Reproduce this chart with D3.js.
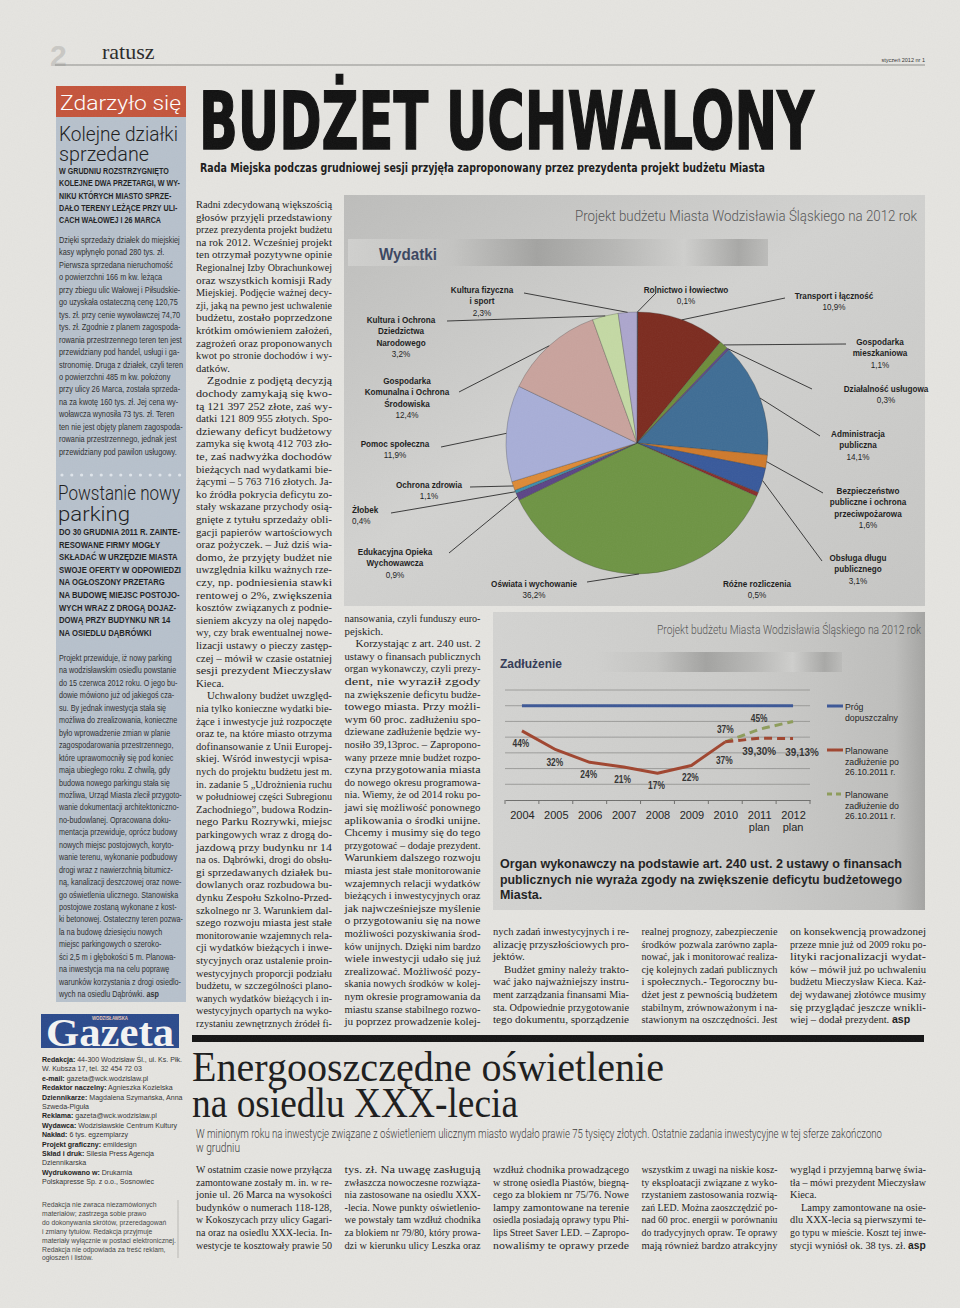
<!DOCTYPE html>
<meta charset="utf-8">
<style>
  body { margin: 0; background: #e5e4e0; }
  svg { display: block; }
</style>
<body></body>
<script src="https://cdn.jsdelivr.net/npm/d3@7/dist/d3.min.js"></script>
<script>
  const width = 960
  const height = 1308

  const serif = "'Liberation Serif', 'DejaVu Serif', serif"
  const arial = "'Liberation Sans', Arial, sans-serif"
  const light = "Roboto, 'Liberation Sans', sans-serif"
  const cond = "'DejaVu Sans Condensed', 'DejaVu Sans', sans-serif"

  // ---- Wydatki (pie) ----
  const expenseNames = ["Rolnictwo i łowiectwo", "Transport i łączność", "Gospodarka mieszkaniowa", "Działalność usługowa",
    "Administracja publiczna", "Bezpieczeństwo publiczne i ochrona przeciwpożarowa", "Obsługa długu publicznego",
    "Różne rozliczenia", "Oświata i wychowanie", "Edukacyjna Opieka Wychowawcza", "Żłobek", "Ochrona zdrowia",
    "Pomoc społeczna", "Gospodarka Komunalna i Ochrona Środowiska", "Kultura i Ochrona Dziedzictwa Narodowego",
    "Kultura fizyczna i sport"]
  const expenseShares = [0.1, 10.9, 1.1, 0.3, 14.1, 1.6, 3.1, 0.5, 36.2, 0.9, 0.4, 1.1, 11.9, 12.4, 3.2, 2.3]
  const expenseColors = ["#4f6b9a", "#7c2b1f", "#6e8c3b", "#5d4a87", "#3f6d95", "#cf7a2c", "#38599b", "#8a2e2a",
    "#6e9444", "#5b4586", "#3e8fae", "#dd8a36", "#a8aed7", "#c9a39d", "#c4d9a4", "#aca6cd"]
  const expenseLabelLines = [
    ["Rolnictwo i łowiectwo"], ["Transport i łączność"], ["Gospodarka", "mieszkaniowa"], ["Działalność usługowa"],
    ["Administracja", "publiczna"], ["Bezpieczeństwo", "publiczne i ochrona", "przeciwpożarowa"],
    ["Obsługa długu", "publicznego"], ["Różne rozliczenia"], ["Oświata i wychowanie"],
    ["Edukacyjna Opieka", "Wychowawcza"], ["Żłobek"], ["Ochrona zdrowia"], ["Pomoc społeczna"],
    ["Gospodarka", "Komunalna i Ochrona", "Środowiska"], ["Kultura i Ochrona", "Dziedzictwa", "Narodowego"],
    ["Kultura fizyczna", "i sport"]
  ]
  // where each label sits and where its leader line leaves it
  const pieLabelLayout = [
    { x: 686, y: 289, lx: 656, ly: 293 }, { x: 834, y: 295, lx: 785, ly: 298 },
    { x: 880, y: 341, lx: 846, ly: 344 }, { x: 886, y: 388, lx: 812, ly: 389 },
    { x: 858, y: 433, lx: 820, ly: 436 }, { x: 868, y: 490, lx: 823, ly: 493 },
    { x: 858, y: 557, lx: 822, ly: 561 }, { x: 757, y: 583 },
    { x: 534, y: 583, lx: 587, ly: 582 }, { x: 395, y: 551, lx: 449, ly: 553 },
    { x: 352, y: 509, lx: 391, ly: 513, anchor: "start" }, { x: 429, y: 484, lx: 470, ly: 487 },
    { x: 395, y: 443, lx: 441, ly: 447 }, { x: 407, y: 380, lx: 459, ly: 392 },
    { x: 401, y: 319, lx: 447, ly: 321 }, { x: 482, y: 289, lx: 524, ly: 293 }
  ]

  // ---- Zadłużenie (line) ----
  const years = ["2004", "2005", "2006", "2007", "2008", "2009", "2010", "2011", "2012"]
  const yearNotes = ["", "", "", "", "", "", "", "plan", "plan"]
  const actualYears = ["2004", "2005", "2006", "2007", "2008", "2009", "2010"]
  const debtActual = [44, 32, 24, 21, 17, 22, 37]
  const planYears = ["2010", "2011", "2012"]
  const debtPlanAfter = [37, 39.30, 39.13]
  const debtPlanBefore = [37, 45, 50]
  const debtLimit = 60
  const debtTicks = [0, 10, 20, 30, 40, 50, 60, 70]
  const legendLabels = [["Próg", "dopuszczalny"], ["Planowane", "zadłużenie po", "26.10.2011 r."], ["Planowane", "zadłużenie do", "26.10.2011 r."]]

  // ---- texts ----
  const kolejneLead = ["W GRUDNIU ROZSTRZYGNIĘTO", "KOLEJNE DWA PRZETARGI, W WY-", "NIKU KTÓRYCH MIASTO SPRZE-", "DAŁO TERENY LEŻĄCE PRZY ULI-", "CACH WAŁOWEJ I 26 MARCA"]
  const kolejneBody = ["Dzięki sprzedaży działek do miejskiej", "kasy wpłynęło ponad 280 tys. zł.", "Pierwsza sprzedana nieruchomość",
    "o powierzchni 166 m kw. leżąca", "przy zbiegu ulic Wałowej i Piłsudskie-", "go uzyskała ostateczną cenę 120,75",
    "tys. zł. przy cenie wywoławczej 74,70", "tys. zł. Zgodnie z planem zagospoda-", "rowania przestrzennego teren ten jest",
    "przewidziany pod handel, usługi i ga-", "stronomię. Druga z działek, czyli teren", "o powierzchni 485 m kw. położony",
    "przy ulicy 26 Marca, została sprzeda-", "na za kwotę 160 tys. zł. Jej cena wy-", "woławcza wynosiła 73 tys. zł. Teren",
    "ten nie jest objęty planem zagospoda-", "rowania przestrzennego, jednak jest", "przewidziany pod pawilon usługowy."]
  const parkingLead = ["DO 30 GRUDNIA 2011 R. ZAINTE-", "RESOWANE FIRMY MOGŁY", "SKŁADAĆ W URZĘDZIE MIASTA", "SWOJE OFERTY W ODPOWIEDZI",
    "NA OGŁOSZONY PRZETARG", "NA BUDOWĘ MIEJSC POSTOJO-", "WYCH WRAZ Z DROGĄ DOJAZ-", "DOWĄ PRZY BUDYNKU NR 14", "NA OSIEDLU DĄBRÓWKI"]
  const parkingBody = ["Projekt przewiduje, iż nowy parking", "na wodzisławskim osiedlu powstanie", "do 15 czerwca 2012 roku. O jego bu-",
    "dowie mówiono już od jakiegoś cza-", "su. By jednak inwestycja stała się", "możliwa do zrealizowania, konieczne",
    "było wprowadzenie zmian w planie", "zagospodarowania przestrzennego,", "które uprawomocniły się pod koniec",
    "maja ubiegłego roku. Z chwilą, gdy", "budowa nowego parkingu stała się", "możliwa, Urząd Miasta zlecił przygoto-",
    "wanie dokumentacji architektoniczno-", "no-budowlanej. Opracowana doku-", "mentacja przewiduje, oprócz budowy",
    "nowych miejsc postojowych, koryto-", "wanie terenu, wykonanie podbudowy", "drogi wraz z nawierzchnią bitumicz-",
    "ną, kanalizacji deszczowej oraz nowe-", "go oświetlenia ulicznego. Stanowiska", "postojowe zostaną wykonane z kost-",
    "ki betonowej. Ostateczny teren pozwa-", "la na budowę dziesięciu nowych", "miejsc parkingowych o szeroko-",
    "ści 2,5 m i głębokości 5 m. Planowa-", "na inwestycja ma na celu poprawę", "warunków korzystania z drogi osiedlo-",
    "wych na osiedlu Dąbrówki. asp"]
  const imprintLines = [["Redakcja:", " 44-300 Wodzisław Śl., ul. Ks. Płk."], ["", "W. Kubsza 17, tel. 32 454 72 03"],
    ["e-mail:", " gazeta@wck.wodzislaw.pl"], ["Redaktor naczelny:", " Agnieszka Kozielska"],
    ["Dziennikarze:", " Magdalena Szymańska, Anna"], ["", "Szweda-Piguła"], ["Reklama:", " gazeta@wck.wodzislaw.pl"],
    ["Wydawca:", " Wodzisławskie Centrum Kultury"], ["Nakład:", " 6 tys. egzemplarzy"], ["Projekt graficzny:", " emildesign"],
    ["Skład i druk:", " Silesia Press Agencja"], ["", "Dziennikarska"], ["Wydrukowano w:", " Drukarnia"],
    ["", "Polskapresse Sp. z o.o., Sosnowiec"]]
  const disclaimerLines = ["Redakcja nie zwraca niezamówionych", "materiałów; zastrzega sobie prawo", "do dokonywania skrótów, przeredagowań",
    "i zmiany tytułów. Redakcja przyjmuje", "materiały wyłącznie w postaci elektronicznej.", "Redakcja nie odpowiada za treść reklam,", "ogłoszeń i listów."]

  const budgetCol1 = ["Radni zdecydowaną większością", "głosów przyjęli przedstawiony", "przez prezydenta projekt budżetu",
    "na rok 2012. Wcześniej projekt", "ten otrzymał pozytywne opinie", "Regionalnej Izby Obrachunkowej", "oraz wszystkich komisji Rady",
    "Miejskiej. Podjęcie ważnej decy-", "zji, jaką na pewno jest uchwalenie", "budżetu, zostało poprzedzone", "krótkim omówieniem założeń,",
    "zagrożeń oraz proponowanych", "kwot po stronie dochodów i wy-", "datków.¶", "  Zgodnie z podjętą decyzją", "dochody zamykają się kwo-",
    "tą 121 397 252 złote, zaś wy-", "datki 121 809 955 złotych. Spo-", "dziewany deficyt budżetowy", "zamyka się kwotą 412 703 zło-",
    "te, zaś nadwyżka dochodów", "bieżących nad wydatkami bie-", "żącymi – 5 763 716 złotych. Ja-", "ko źródła pokrycia deficytu zo-",
    "stały wskazane przychody osią-", "gnięte z tytułu sprzedaży obli-", "gacji papierów wartościowych", "oraz pożyczek. – Już dziś wia-",
    "domo, że przyjęty budżet nie", "uwzględnia kilku ważnych rze-", "czy, np. podniesienia stawki", "rentowej o 2%, zwiększenia",
    "kosztów związanych z podnie-", "sieniem akcyzy na olej napędo-", "wy, czy brak ewentualnej nowe-", "lizacji ustawy o pieczy zastęp-",
    "czej – mówił w czasie ostatniej", "sesji prezydent Mieczysław", "Kieca.¶", "  Uchwalony budżet uwzględ-",
    "nia tylko konieczne wydatki bie-", "żące i inwestycje już rozpoczęte", "oraz te, na które miasto otrzyma", "dofinansowanie z Unii Europej-",
    "skiej. Wśród inwestycji wpisa-", "nych do projektu budżetu jest m.", "in. zadanie 5 „Udrożnienia ruchu", "w południowej części Subregionu",
    "Zachodniego”, budowa Rodzin-", "nego Parku Rozrywki, miejsc", "parkingowych wraz z drogą do-", "jazdową przy budynku nr 14",
    "na os. Dąbrówki, drogi do obsłu-", "gi sprzedawanych działek bu-", "dowlanych oraz rozbudowa bu-", "dynku Zespołu Szkolno-Przed-",
    "szkolnego nr 3. Warunkiem dal-", "szego rozwoju miasta jest stałe", "monitorowanie wzajemnych rela-", "cji wydatków bieżących i inwe-",
    "stycyjnych oraz ustalenie proin-", "westycyjnych proporcji podziału", "budżetu, w szczególności plano-", "wanych wydatków bieżących i in-",
    "westycyjnych opartych na wyko-", "rzystaniu zewnętrznych źródeł fi-"]
  const budgetCol2 = ["nansowania, czyli funduszy euro-", "pejskich.¶", "  Korzystając z art. 240 ust. 2", "ustawy o finansach publicznych",
    "organ wykonawczy, czyli prezy-", "dent, nie wyraził zgody", "na zwiększenie deficytu budże-", "towego miasta. Przy możli-",
    "wym 60 proc. zadłużeniu spo-", "dziewane zadłużenie będzie wy-", "nosiło 39,13proc. – Zapropono-", "wany przeze mnie budżet rozpo-",
    "czyna przygotowania miasta", "do nowego okresu programowa-", "nia. Wiemy, że od 2014 roku po-", "jawi się możliwość ponownego",
    "aplikowania o środki unijne.", "Chcemy i musimy się do tego", "przygotować – dodaje prezydent.", "Warunkiem dalszego rozwoju",
    "miasta jest stałe monitorowanie", "wzajemnych relacji wydatków", "bieżących i inwestycyjnych oraz", "jak najwcześniejsze myślenie",
    "o przygotowaniu się na nowe", "możliwości pozyskiwania środ-", "ków unijnych. Dzięki nim bardzo", "wiele inwestycji udało się już",
    "zrealizować. Możliwość pozy-", "skania nowych środków w kolej-", "nym okresie programowania da", "miastu szanse stabilnego rozwo-",
    "ju poprzez prowadzenie kolej-"]
  const budgetCol3 = ["nych zadań inwestycyjnych i re-", "alizację przyszłościowych pro-", "jektów.¶", "  Budżet gminy należy trakto-",
    "wać jako najważniejszy instru-", "ment zarządzania finansami Mia-", "sta. Odpowiednie przygotowanie", "tego dokumentu, sporządzenie"]
  const budgetCol4 = ["realnej prognozy, zabezpieczenie", "środków pozwala zarówno zapla-", "nować, jak i monitorować realiza-",
    "cję kolejnych zadań publicznych", "i społecznych.- Tegoroczny bu-", "dżet jest z pewnością budżetem", "stabilnym, zrównoważonym i na-",
    "stawionym na oszczędności. Jest"]
  const budgetCol5 = ["on konsekwencją prowadzonej", "przeze mnie już od 2009 roku po-", "lityki racjonalizacji wydat-",
    "ków – mówił już po uchwaleniu", "budżetu Mieczysław Kieca. Każ-", "dej wydawanej złotówce musimy", "się przyglądać jeszcze wnikli-",
    "wiej – dodał prezydent. asp¶"]
  const debtNote = ["Organ wykonawczy na podstawie art. 240 ust. 2 ustawy o finansach",
    "publicznych nie wyraża zgody na zwiększenie deficytu budżetowego", "Miasta.¶"]

  const lightCols = [
    ["W ostatnim czasie nowe przyłącza", "zamontowane zostały m. in. w re-", "jonie ul. 26 Marca na wysokości",
      "budynków o numerach 118-128,", "w Kokoszycach przy ulicy Gagari-", "na oraz na osiedlu XXX-lecia. In-", "westycje te kosztowały prawie 50"],
    ["tys. zł. Na uwagę zasługują", "zwłaszcza nowoczesne rozwiąza-", "nia zastosowane na osiedlu XXX-",
      "-lecia. Nowe punkty oświetlenio-", "we powstały tam wzdłuż chodnika", "za blokiem nr 79/80, który prowa-", "dzi w kierunku ulicy Leszka oraz"],
    ["wzdłuż chodnika prowadzącego", "w stronę osiedla Piastów, biegną-", "cego za blokiem nr 75/76. Nowe",
      "lampy zamontowane na terenie", "osiedla posiadają oprawy typu Phi-", "lips Street Saver LED. – Zapropo-", "nowaliśmy te oprawy przede"],
    ["wszystkim z uwagi na niskie kosz-", "ty eksploatacji związane z wyko-", "rzystaniem zastosowania rozwią-",
      "zań LED. Można zaoszczędzić po-", "nad 60 proc. energii w porównaniu", "do tradycyjnych opraw. Te oprawy", "mają również bardzo atrakcyjny"],
    ["wygląd i przyjemną barwę świa-", "tła – mówi prezydent Mieczysław", "Kieca.¶", "  Lampy zamontowane na osie-",
      "dlu XXX-lecia są pierwszymi te-", "go typu w mieście. Koszt tej inwe-", "stycji wyniósł ok. 38 tys. zł. asp¶"]
  ]

  // ---------------------------------------------------------------
  const svg = d3.select("body").append("svg").attr("width", width).attr("height", height)
  const defs = svg.append("defs")

  function gradient(id, stops, x2 = 1, y2 = 0) {
    const g = defs.append("linearGradient").attr("id", id).attr("x1", 0).attr("y1", 0).attr("x2", x2).attr("y2", y2)
    stops.forEach(([o, c]) => g.append("stop").attr("offset", o).attr("stop-color", c))
  }
  gradient("pieBg", [[0, "#bdbdbb"], [0.45, "#d2d2d0"], [1, "#c6c6c4"]], 1, 1)
  gradient("debtBg", [[0, "#d3d3d1"], [0.6, "#cbcbc9"], [0.93, "#bebebc"], [1, "#a4a4a2"]])
  gradient("band", [[0, "#d0d0ce"], [0.25, "#c4c4c2"], [0.45, "#a3a3a1"], [0.65, "#b9b9b7"], [0.8, "#cfcfcd"], [0.93, "#a8a8a6"], [1, "#bcbcba"]])

  svg.append("rect").attr("width", width).attr("height", height).attr("fill", "#e5e4e0")

  // fits a list of lines: justified columns or ragged blocks squeezed to a common factor
  function block(g, lines, o) {
    const items = lines.map((raw, i) => {
      let s = raw, indent = 0, end = false
      if (s.startsWith("  ")) { indent = o.indent || 0; s = s.slice(2) }
      if (s.endsWith("¶")) { end = true; s = s.slice(0, -1) }
      const t = g.append("text")
        .attr("x", o.x + indent)
        .attr("y", o.y + i * o.lh)
        .attr("font-family", o.family)
        .attr("font-size", o.size)
        .attr("font-weight", o.weight || 400)
        .attr("fill", o.fill || "#1d1d1d")
      if (s.endsWith(" asp")) {
        t.append("tspan").text(s.slice(0, -3))
        t.append("tspan").attr("font-family", arial).attr("font-weight", 700).text("asp")
      } else {
        t.text(s)
      }
      return { t, indent, end, nat: t.node().getComputedTextLength() }
    })
    if (o.justify) {
      const k = d3.median(items.filter(d => !d.end), d => (o.w - d.indent) / d.nat) || 1
      items.forEach(d => {
        const target = d.end ? Math.min(d.nat * k, o.w - d.indent) : o.w - d.indent
        d.t.attr("textLength", target).attr("lengthAdjust", "spacingAndGlyphs")
      })
    } else {
      const k = o.squeeze || o.w / d3.max(items, d => d.nat)
      items.forEach(d => d.t.attr("textLength", d.nat * k).attr("lengthAdjust", "spacingAndGlyphs"))
    }
  }

  function fitText(g, s, x, y, w, attrs) {
    const t = g.append("text").attr("x", x).attr("y", y).text(s)
    Object.entries(attrs).forEach(([k, v]) => t.attr(k, v))
    t.attr("textLength", w).attr("lengthAdjust", "spacingAndGlyphs")
    return t
  }

  // ---- page header ----
  const head = svg.append("g")
  head.append("text").attr("x", 50).attr("y", 66).attr("font-family", arial).attr("font-size", 30)
    .attr("font-weight", 700).attr("fill", "#c9c8c4").text("2")
  head.append("text").attr("x", 102).attr("y", 59).attr("font-family", serif).attr("font-size", 22)
    .attr("fill", "#2a2a2a").text("ratusz")
  head.append("line").attr("x1", 55).attr("x2", 925).attr("y1", 65).attr("y2", 65).attr("stroke", "#8d8d8a").attr("stroke-width", 1)
  head.append("text").attr("x", 925).attr("y", 62).attr("text-anchor", "end").attr("font-family", arial)
    .attr("font-size", 5.5).attr("fill", "#333").text("styczeń 2012 nr 1")

  // ---- left sidebar ----
  const side = svg.append("g")
  side.append("rect").attr("x", 56).attr("y", 117).attr("width", 130).attr("height", 885).attr("fill", "#b7c1cc")
  side.append("rect").attr("x", 56).attr("y", 86).attr("width", 130).attr("height", 31).attr("fill", "#c4543b")
  fitText(side, "Zdarzyło się", 60, 110, 121, { "font-family": light, "font-size": 21, "font-weight": 300, fill: "#fff" })
  fitText(side, "Kolejne działki", 59, 141, 119, { "font-family": light, "font-size": 20, "font-weight": 300, fill: "#1c1c1c" })
  fitText(side, "sprzedane", 59, 161, 90, { "font-family": light, "font-size": 20, "font-weight": 300, fill: "#1c1c1c" })
  block(side, kolejneLead, { x: 59, y: 174, lh: 12.3, w: 121, family: arial, size: 9, weight: 700, fill: "#1f1f1f" })
  block(side, kolejneBody, { x: 59, y: 243, lh: 12.45, w: 124, family: arial, size: 9.5, fill: "#2e2e2e" })
  side.selectAll("circle.dot").data(d3.range(13)).join("circle").attr("class", "dot")
    .attr("cx", d => 62 + d * 9.8).attr("cy", 475).attr("r", 1.6).attr("fill", "#dfe5eb")
  fitText(side, "Powstanie nowy", 58, 500, 122, { "font-family": light, "font-size": 20, "font-weight": 300, fill: "#1c1c1c" })
  fitText(side, "parking", 58, 521, 72, { "font-family": light, "font-size": 20, "font-weight": 300, fill: "#1c1c1c" })
  block(side, parkingLead, { x: 59, y: 535, lh: 12.6, w: 122, family: arial, size: 9, weight: 700, fill: "#1f1f1f" })
  block(side, parkingBody, { x: 59, y: 661, lh: 12.45, w: 124, family: arial, size: 9.5, fill: "#2e2e2e" })

  // masthead box + imprint
  side.append("rect").attr("x", 41).attr("y", 1014).attr("width", 138).attr("height", 34).attr("fill", "#2b4a8c")
  fitText(side, "Gazeta", 46, 1046, 128, { "font-family": serif, "font-size": 40, "font-weight": 700, fill: "#f4f4f4" })
  side.append("rect").attr("x", 90).attr("y", 1015).attr("width", 40).attr("height", 6).attr("fill", "#2b4a8c")
  fitText(side, "WODZISŁAWSKA", 92, 1020, 36, { "font-family": arial, "font-size": 5, "font-weight": 700, fill: "#e9c7b8" })
  const imp = side.append("g")
  imprintLines.forEach(([label, rest], i) => {
    const t = imp.append("text").attr("x", 42).attr("y", 1062 + i * 9.4).attr("font-family", arial)
      .attr("font-size", 8).attr("fill", "#333")
    if (label) t.append("tspan").attr("font-weight", 700).attr("fill", "#1a1a1a").text(label)
    t.append("tspan").text(rest)
    t.attr("textLength", t.node().getComputedTextLength() * 0.88).attr("lengthAdjust", "spacingAndGlyphs")
  })
  block(imp, disclaimerLines, { x: 42, y: 1207, lh: 8.9, w: 134, family: arial, size: 7.8, fill: "#444" })
  imp.append("line").attr("x1", 178).attr("x2", 178).attr("y1", 1200).attr("y2", 1258).attr("stroke", "#9a9a98").attr("stroke-width", 0.6)

  // ---- main headline ----
  const main = svg.append("g")
  fitText(main, "BUDŻET UCHWALONY", 199, 149, 615, { "font-family": cond, "font-size": 81, "font-weight": 700,
    fill: "#111", stroke: "#111", "stroke-width": 1.4 })
  fitText(main, "Rada Miejska podczas grudniowej sesji przyjęła zaproponowany przez prezydenta projekt budżetu Miasta",
    200, 172, 565, { "font-family": cond, "font-size": 12.5, "font-weight": 700, fill: "#1a1a1a" })

  const colX = i => 196 + i * 148.5
  const colW = 136
  const bodyStyle = { lh: 12.6, w: colW, family: serif, size: 10.5, justify: true, indent: 11, fill: "#1c1c1c" }
  block(main, budgetCol1, { ...bodyStyle, x: colX(0), y: 208 })
  block(main, budgetCol2, { ...bodyStyle, x: colX(1), y: 622 })
  block(main, budgetCol3, { ...bodyStyle, x: colX(2), y: 935 })
  block(main, budgetCol4, { ...bodyStyle, x: colX(3), y: 935 })
  block(main, budgetCol5, { ...bodyStyle, x: colX(4), y: 935 })

  // ---- pie panel ----
  const pieG = svg.append("g")
  pieG.append("rect").attr("x", 344).attr("y", 195).attr("width", 581).attr("height", 411).attr("fill", "url(#pieBg)")
  fitText(pieG, "Projekt budżetu Miasta Wodzisławia Śląskiego na 2012 rok", 575, 221, 342,
    { "font-family": light, "font-size": 15, "font-weight": 300, fill: "#555" })
  pieG.append("rect").attr("x", 348).attr("y", 239).attr("width", 420).attr("height", 27).attr("fill", "url(#band)")
  fitText(pieG, "Wydatki", 379, 260, 58, { "font-family": arial, "font-size": 17, "font-weight": 700, fill: "#3a4560" })

  const pcx = 637, pcy = 443, pr = 131
  const pie = d3.pie().sort(null).value(d => d)
  const arcs = pie(expenseShares)
  const arc = d3.arc().innerRadius(0).outerRadius(pr)
  const pieBody = pieG.append("g").attr("transform", `translate(${pcx},${pcy})`)
  pieBody.selectAll("path").data(arcs).join("path")
    .attr("d", arc)
    .attr("fill", (d, i) => expenseColors[i])
    .attr("stroke", "rgba(50,50,50,0.45)")
    .attr("stroke-width", 0.6)

  const pct = v => v.toFixed(1).replace(".", ",") + "%"
  arcs.forEach((a, i) => {
    const L = pieLabelLayout[i]
    const mid = (a.startAngle + a.endAngle) / 2
    if (L.lx != null) {
      pieG.append("line")
        .attr("x1", L.lx).attr("y1", L.ly)
        .attr("x2", pcx + pr * Math.sin(mid)).attr("y2", pcy - pr * Math.cos(mid))
        .attr("stroke", "#3a3a3a").attr("stroke-width", 1)
    }
    const lines = expenseLabelLines[i].concat(pct(expenseShares[i]))
    lines.forEach((s, j) => {
      const t = pieG.append("text").attr("x", L.x).attr("y", L.y + 3.5 + j * 11.6)
        .attr("text-anchor", L.anchor || "middle").attr("font-family", arial).attr("font-size", 9.8)
        .attr("font-weight", j < lines.length - 1 ? 700 : 400).attr("fill", "#1c1c1c").text(s)
      t.attr("textLength", t.node().getComputedTextLength() * 0.83).attr("lengthAdjust", "spacingAndGlyphs")
    })
  })

  // ---- debt panel ----
  const debtG = svg.append("g")
  debtG.append("rect").attr("x", 493).attr("y", 612).attr("width", 432).attr("height", 298).attr("fill", "url(#debtBg)")
  fitText(debtG, "Projekt budżetu Miasta Wodzisławia Śląskiego na 2012 rok", 657, 634, 264,
    { "font-family": light, "font-size": 12, "font-weight": 300, fill: "#555" })
  debtG.append("rect").attr("x", 595).attr("y", 652).attr("width", 247).attr("height", 20).attr("fill", "url(#band)")
  fitText(debtG, "Zadłużenie", 500, 668, 62, { "font-family": arial, "font-size": 13.5, "font-weight": 700, fill: "#333a55" })

  const x = d3.scalePoint().domain(years).range([505, 810]).padding(0.5)
  const y = d3.scaleLinear().domain([0, 70]).range([800, 690])
  const step = x.step()

  debtG.append("g").selectAll("line").data(debtTicks.slice(1)).join("line")
    .attr("x1", 505).attr("x2", 810).attr("y1", d => y(d)).attr("y2", d => y(d))
    .attr("stroke", "#8f8f8d").attr("stroke-width", 0.8)
  const axis = debtG.append("g").attr("transform", `translate(0,${y(0)})`)
    .call(d3.axisBottom(x).tickSize(0).tickPadding(11))
  axis.select(".domain").attr("stroke", "#6f6f6d")
  axis.selectAll("text").attr("font-family", arial).attr("font-size", 11).attr("fill", "#222")
  axis.selectAll("line.bound").data(d3.range(years.length + 1)).join("line").attr("class", "bound")
    .attr("x1", d => 505 + d * step).attr("x2", d => 505 + d * step).attr("y1", 0).attr("y2", 4)
    .attr("stroke", "#6f6f6d")
  debtG.selectAll("text.note").data(years.filter((d, i) => yearNotes[i])).join("text").attr("class", "note")
    .attr("x", d => x(d)).attr("y", 831).attr("text-anchor", "middle").attr("font-family", arial)
    .attr("font-size", 11).attr("fill", "#222").text(d => yearNotes[years.indexOf(d)])

  const line = d3.line().x(d => x(d[0])).y(d => y(d[1]))
  debtG.append("path").datum([years[0], years[years.length - 1]].map(d => [d, debtLimit])).attr("d", line)
    .attr("fill", "none").attr("stroke", "#3c5796").attr("stroke-width", 3)
  debtG.append("path").datum(planYears.map((d, i) => [d, debtPlanBefore[i]])).attr("d", line)
    .attr("fill", "none").attr("stroke", "#8d9c5a").attr("stroke-width", 3).attr("stroke-dasharray", "8,5")
  debtG.append("path").datum(planYears.map((d, i) => [d, debtPlanAfter[i]])).attr("d", line)
    .attr("fill", "none").attr("stroke", "#a0452f").attr("stroke-width", 3).attr("stroke-dasharray", "8,5")
  debtG.append("path").datum(actualYears.map((d, i) => [d, debtActual[i]])).attr("d", line)
    .attr("fill", "none").attr("stroke", "#a0452f").attr("stroke-width", 3).attr("stroke-linejoin", "round")

  const dataLabel = (s, cx, cy) => debtG.append("text").attr("x", cx).attr("y", cy).attr("text-anchor", "middle")
    .attr("font-family", arial).attr("font-size", 11).attr("font-weight", 700).attr("fill", "#333")
    .attr("textLength", s.length * 5.6).attr("lengthAdjust", "spacingAndGlyphs").text(s)
  actualYears.forEach((d, i) => dataLabel(debtActual[i] + "%", x(d) - 1, y(debtActual[i]) + (i === 6 ? 22 : 16)))
  planYears.forEach((d, i) => {
    if (i === 0) return
    dataLabel(debtPlanAfter[i].toFixed(2).replace(".", ",") + "%", x(d) + (i === 2 ? 9 : 0), y(debtPlanAfter[i]) + 17)
  })
  planYears.slice(0, 2).forEach((d, i) => dataLabel(debtPlanBefore[i] + "%", x(d), y(debtPlanBefore[i]) - 7 + (i === 0 ? -2 : 0)))

  const legendY = [706, 750, 794]
  const legendStyle = [{ c: "#3c5796" }, { c: "#a0452f" }, { c: "#8d9c5a", dash: "5,4" }]
  legendLabels.forEach((lbl, i) => {
    debtG.append("line").attr("x1", 827).attr("x2", 843).attr("y1", legendY[i]).attr("y2", legendY[i])
      .attr("stroke", legendStyle[i].c).attr("stroke-width", 3).attr("stroke-dasharray", legendStyle[i].dash || null)
    lbl.forEach((s, j) => {
      const t = debtG.append("text").attr("x", 845).attr("y", legendY[i] + 4 + j * 10.5).attr("font-family", arial)
        .attr("font-size", 9.5).attr("fill", "#222").text(s)
      t.attr("textLength", t.node().getComputedTextLength() * 0.92).attr("lengthAdjust", "spacingAndGlyphs")
    })
  })
  block(debtG, debtNote, { x: 500, y: 868, lh: 15.6, w: 402, family: arial, size: 12.5, weight: 700, justify: true, fill: "#1e1e1e" })

  // ---- rule + second article ----
  const art = svg.append("g")
  art.append("rect").attr("x", 192).attr("y", 1035).attr("width", 732).attr("height", 7).attr("fill", "#141414")
  fitText(art, "Energooszczędne oświetlenie", 192, 1081, 472, { "font-family": serif, "font-size": 42, fill: "#1c1c1c" })
  fitText(art, "na osiedlu XXX-lecia", 192, 1117, 326, { "font-family": serif, "font-size": 42, fill: "#1c1c1c" })
  fitText(art, "W minionym roku na inwestycje związane z oświetleniem ulicznym miasto wydało prawie 75 tysięcy złotych. Ostatnie zadania inwestycyjne w tej sferze zakończono",
    196, 1138, 686, { "font-family": light, "font-size": 12, "font-weight": 300, fill: "#3a3a3a" })
  art.append("text").attr("x", 196).attr("y", 1152).attr("font-family", light).attr("font-size", 12)
    .attr("font-weight", 300).attr("fill", "#3a3a3a").attr("textLength", 44).attr("lengthAdjust", "spacingAndGlyphs").text("w grudniu")
  lightCols.forEach((lines, i) => block(art, lines, { ...bodyStyle, x: colX(i), y: 1173 }))

  // paper grain
  const grain = defs.append("filter").attr("id", "grain")
  grain.append("feTurbulence").attr("type", "fractalNoise").attr("baseFrequency", 0.8).attr("numOctaves", 2).attr("seed", 3)
  grain.append("feColorMatrix").attr("type", "saturate").attr("values", 0)
  svg.append("rect").attr("width", width).attr("height", height).attr("filter", "url(#grain)").attr("opacity", 0.05)
</script>
